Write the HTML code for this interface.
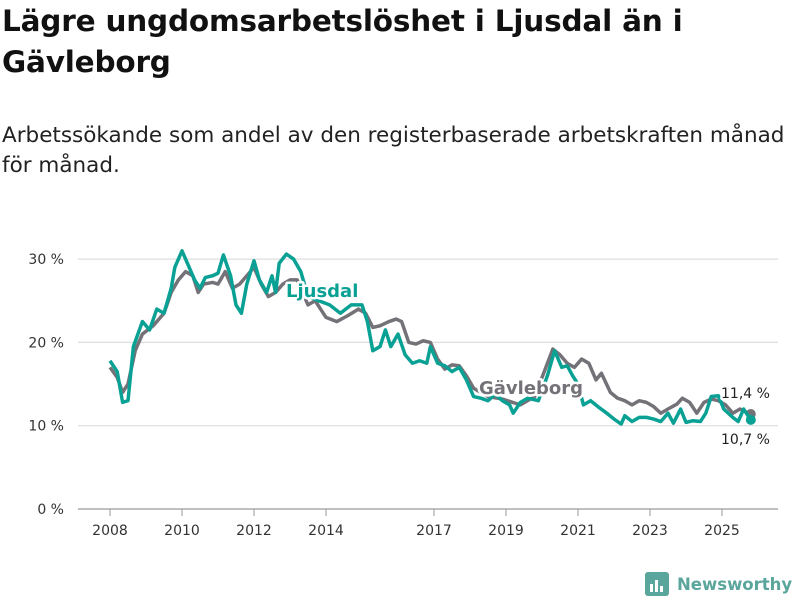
<!DOCTYPE html>
<html><head><meta charset="utf-8"><style>
body{margin:0;width:800px;height:600px;background:#fff;font-family:"DejaVu Sans","Liberation Sans",sans-serif;overflow:hidden;position:relative;color:#111}
h1{position:absolute;left:2px;top:1px;margin:0;font-size:29.5px;line-height:41px;font-weight:bold;white-space:nowrap;letter-spacing:-0.2px}
p{position:absolute;left:2px;top:121px;margin:0;font-size:21.5px;line-height:30px;color:#222;white-space:nowrap}
svg{position:absolute;left:0;top:0}
</style></head><body>
<h1>Lägre ungdomsarbetslöshet i Ljusdal än i<br>Gävleborg</h1>
<p>Arbetssökande som andel av den registerbaserade arbetskraften månad<br>för månad.</p>
<svg id="c" width="800" height="600"></svg>
<script>
const yTicks=[0,10,20,30];
const xTicks=[2008,2010,2012,2014,2017,2019,2021,2023,2025];
const ljT=[2008.0,2008.2,2008.35,2008.5,2008.65,2008.9,2009.1,2009.3,2009.5,2009.7,2009.8,2010.0,2010.2,2010.35,2010.5,2010.65,2010.85,2011.0,2011.15,2011.35,2011.5,2011.65,2011.8,2012.0,2012.15,2012.35,2012.5,2012.6,2012.7,2012.9,2013.1,2013.3,2013.5,2013.8,2014.1,2014.4,2014.7,2015.0,2015.15,2015.3,2015.5,2015.65,2015.8,2016.0,2016.2,2016.4,2016.6,2016.8,2016.9,2017.1,2017.3,2017.5,2017.7,2017.9,2018.1,2018.3,2018.5,2018.7,2018.9,2019.1,2019.2,2019.4,2019.6,2019.9,2020.15,2020.35,2020.55,2020.7,2020.85,2021.0,2021.15,2021.35,2021.55,2021.8,2022.0,2022.2,2022.3,2022.5,2022.7,2022.9,2023.1,2023.3,2023.5,2023.65,2023.85,2024.0,2024.2,2024.4,2024.55,2024.7,2024.9,2025.05,2025.3,2025.45,2025.6,2025.8];
const ljV=[17.8,16.5,12.8,13,19.5,22.5,21.5,24,23.5,26.5,29,31,29,27.5,26.5,27.8,28,28.3,30.5,28,24.5,23.5,27,29.8,27.5,26,28,26,29.5,30.6,30,28.5,25.5,25,24.5,23.5,24.5,24.5,22.5,19,19.5,21.5,19.5,21,18.5,17.5,17.8,17.5,19.5,17.5,17.2,16.5,17,15.5,13.5,13.3,13,13.8,13,12.5,11.5,12.8,13.3,13,16,19,17,17.2,16,15,12.5,13,12.3,11.5,10.8,10.2,11.2,10.5,11,11,10.8,10.5,11.5,10.3,12,10.4,10.6,10.5,11.5,13.5,13.6,12,11,10.5,12,10.7];
const gvT=[2008.0,2008.2,2008.35,2008.5,2008.7,2008.9,2009.2,2009.5,2009.7,2009.9,2010.1,2010.3,2010.45,2010.6,2010.85,2011.0,2011.2,2011.4,2011.6,2011.8,2012.0,2012.2,2012.4,2012.6,2012.8,2013.0,2013.2,2013.5,2013.7,2014.0,2014.3,2014.6,2014.9,2015.1,2015.3,2015.5,2015.75,2015.95,2016.1,2016.3,2016.5,2016.7,2016.9,2017.1,2017.3,2017.5,2017.7,2017.9,2018.1,2018.5,2018.9,2019.4,2019.8,2020.3,2020.5,2020.7,2020.9,2021.1,2021.3,2021.5,2021.65,2021.9,2022.1,2022.3,2022.5,2022.7,2022.9,2023.1,2023.3,2023.5,2023.75,2023.9,2024.1,2024.3,2024.5,2024.7,2024.9,2025.1,2025.3,2025.5,2025.8];
const gvV=[17,15.8,14,15,19,21,22,23.5,26,27.5,28.5,28,26,27,27.2,27,28.5,26.5,27,28,29,27,25.5,26,27,27.5,27.5,24.5,25,23,22.5,23.2,24,23.5,21.8,22,22.5,22.8,22.5,20,19.8,20.2,20,18,16.8,17.3,17.2,16,14.5,13.5,13.2,12.5,13.5,19.2,18.5,17.5,17,18,17.5,15.5,16.3,14,13.3,13,12.5,13,12.8,12.3,11.5,12,12.6,13.3,12.8,11.5,12.8,13.2,13,12.5,11.5,12,11.4];
const NS='http://www.w3.org/2000/svg',svg=document.getElementById('c');
const X=t=>110+(t-2008)*36, Y=v=>509-v*8.33;
function el(n,a,txt){const e=document.createElementNS(NS,n);for(const k in a)e.setAttribute(k,a[k]);if(txt!=null)e.textContent=txt;svg.appendChild(e);return e;}
yTicks.forEach(v=>{
 const g=el('line',{x1:78,x2:778,y1:Y(v),y2:Y(v),stroke:v===0?'#999':'#ddd','stroke-width':1.2});
 
 
 const t=el('text',{x:64,y:Y(v)+5,'text-anchor':'end','font-size':14,fill:'#333'},v+' %');
 
 
});
xTicks.forEach(y=>{
 const l=el('line',{x1:X(y),x2:X(y),y1:509,y2:516,stroke:'#999'});
 
 
 const t=el('text',{x:X(y),y:535,'text-anchor':'middle','font-size':14,fill:'#333'},y);
 
 
});
function line(T,V,c,name){
 const p=el('polyline',{points:T.map((t,i)=>X(t)+','+Y(V[i])).join(' '),fill:'none',stroke:c,'stroke-width':3.5,'stroke-linejoin':'round'});
 
 
 const d=el('circle',{cx:X(T[T.length-1]),cy:Y(V[V.length-1]),r:5,fill:c});
 
 
}
line(gvT,gvV,'#747278','line-gavleborg');
line(ljT,ljV,'#0aa195','line-ljusdal');
function lab(x,y,txt,c,w,name,sz){
 const t=el('text',{x:x,y:y,'font-size':sz,'font-weight':w,fill:c,stroke:'#fff','stroke-width':5,'paint-order':'stroke','stroke-linejoin':'round'},txt);
 
 
}
lab(286,297,'Ljusdal','#0aa195','bold','label-ljusdal',18);
lab(479,394,'Gävleborg','#747278','bold','label-gavleborg',18);
lab(721,398,'11,4 %','#222','normal','end-label-gavleborg',14);
lab(721,444,'10,7 %','#222','normal','end-label-ljusdal',14);
const g=el('g',{});


[[645,572,24,24,'#5aa59c']].forEach(r=>{const e=document.createElementNS(NS,'rect');e.setAttribute('x',r[0]);e.setAttribute('y',r[1]);e.setAttribute('width',r[2]);e.setAttribute('height',r[3]);e.setAttribute('rx',3);e.setAttribute('fill',r[4]);g.appendChild(e);});
[[650,584,3,8],[655,580,3,12],[660,586,3,6]].forEach(r=>{const e=document.createElementNS(NS,'rect');e.setAttribute('x',r[0]);e.setAttribute('y',r[1]);e.setAttribute('width',r[2]);e.setAttribute('height',r[3]);e.setAttribute('fill','#fff');g.appendChild(e);});
const lt=document.createElementNS(NS,'text');lt.setAttribute('x',677);lt.setAttribute('y',590);lt.setAttribute('font-size',16.5);lt.setAttribute('font-weight','bold');lt.setAttribute('fill','#5aa59c');lt.textContent='Newsworthy';g.appendChild(lt);
</script>
</body></html>
